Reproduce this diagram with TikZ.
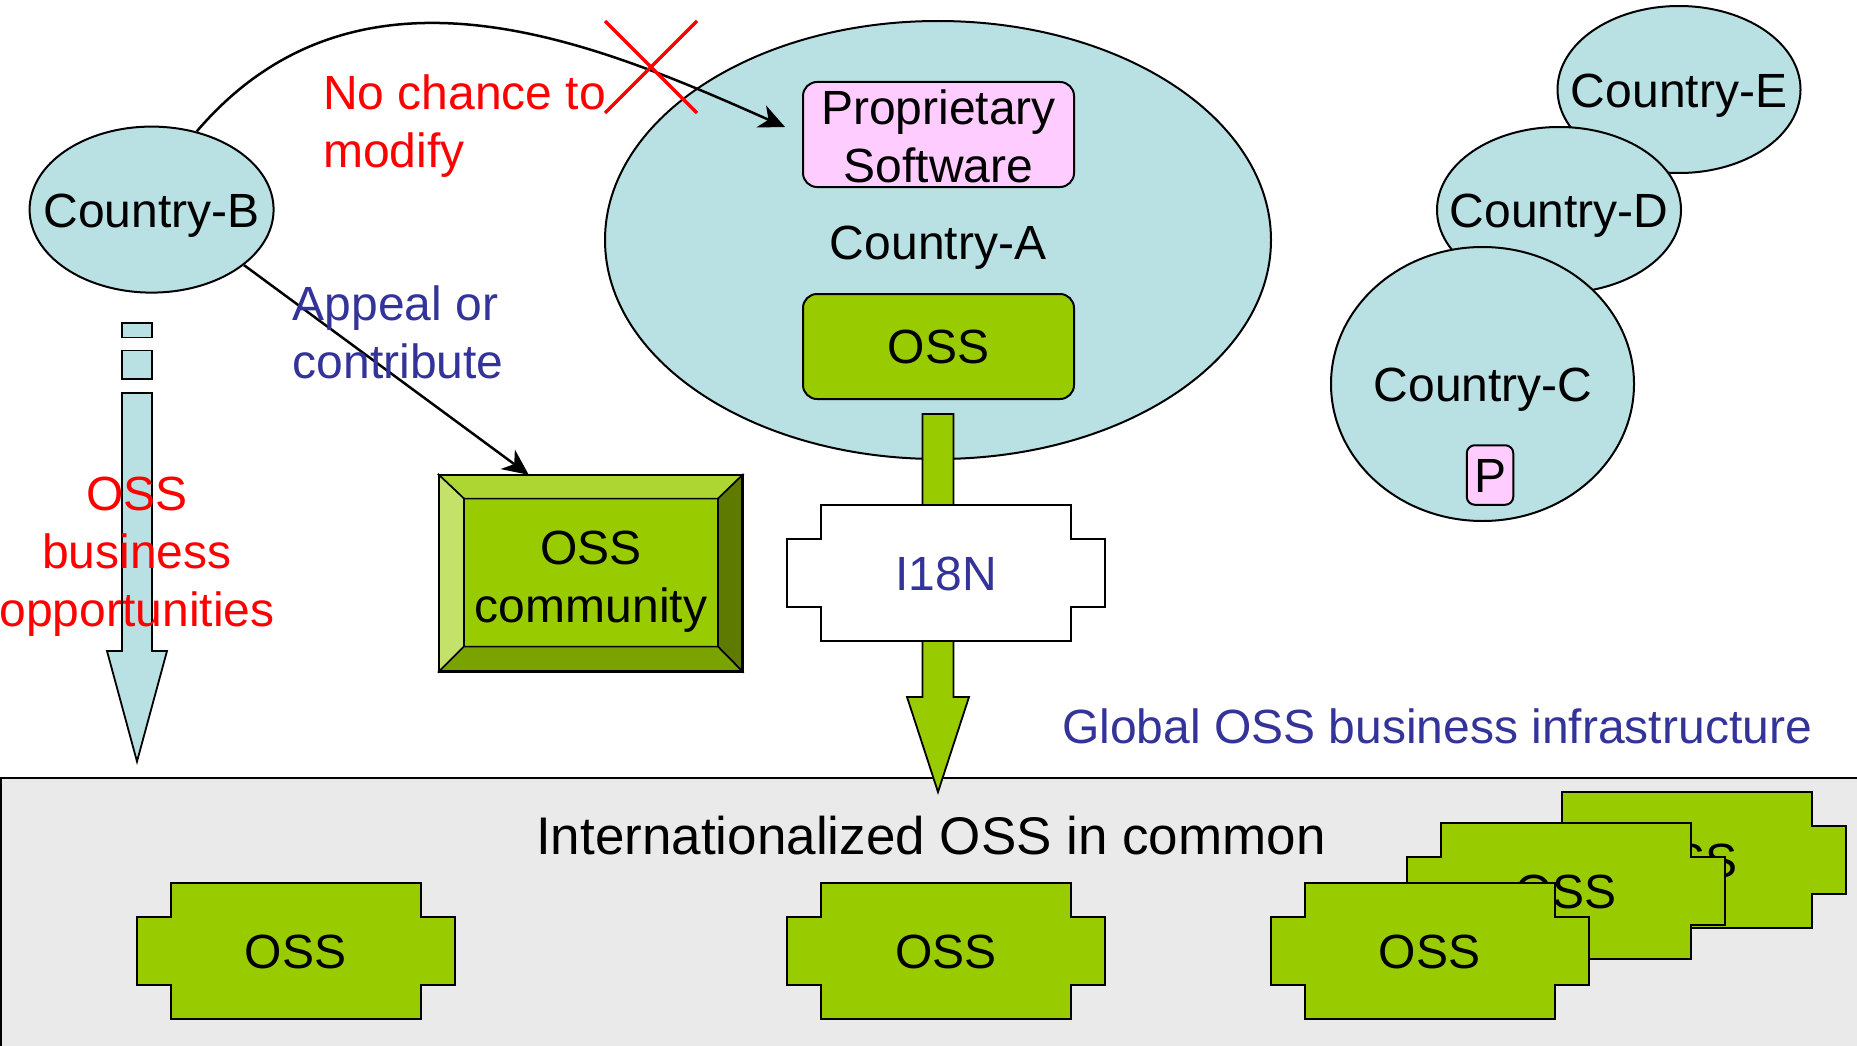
\documentclass[tikz,border=0pt]{standalone}
\usepackage{fontspec}
\setmainfont{Liberation Sans}
\usetikzlibrary{shapes.geometric,arrows.meta}
\definecolor{cty}{HTML}{B9E0E3}
\definecolor{oss}{HTML}{99CC00}
\definecolor{propink}{HTML}{FFCCFF}
\definecolor{txtblue}{HTML}{333399}
\definecolor{bandgray}{HTML}{EAEAEA}
\definecolor{bvtop}{HTML}{ADD633}
\definecolor{bvleft}{HTML}{C4E16A}
\definecolor{bvright}{HTML}{5E7B00}
\definecolor{bvbot}{HTML}{7AA300}
\begin{document}
\begin{tikzpicture}[x=1pt,y=-1pt,
  outl/.style={draw=black, line width=2},
  country/.style={ellipse, outl, fill=cty, inner sep=0},
  lbl/.style={inner sep=0, font=\fontsize{48}{58}\selectfont, align=center},
  biglbl/.style={inner sep=0, font=\fontsize{53}{63}\selectfont, align=center},
  rbox/.style={rectangle, rounded corners=14, outl, inner sep=0},
  conn/.style={line width=2.5, -{Stealth[length=26,width=24,inset=8]}},
  blockarrow/.style={draw=black, line width=1.8},
  bevel/.style={draw=black, line width=1.6},
  plate/.pic={\path[pic actions] (-125,-68) -- (125,-68) -- (125,-34) -- (159,-34) -- (159,34) -- (125,34) -- (125,68) -- (-125,68) -- (-125,34) -- (-159,34) -- (-159,-34) -- (-125,-34) -- cycle;}
]
\useasboundingbox (0,0) rectangle (1857,1046);
\fill[white] (0,0) rectangle (1857,1046);

% band
\fill[bandgray] (1,778) rectangle (1857,1046);
\draw[line width=2] (1857,778) -- (1,778) -- (1,1046);

% Country-A
\node[country, minimum width=666, minimum height=438] (A) at (938,240) {};
\node[rbox, fill=propink, minimum width=271, minimum height=105] (PS) at (938.5,134.5) {};
\node[lbl] (PSt) at (938.5,136) {Proprietary\\Software};
\node[lbl] (Al) at (938,248) {Country-A};
\node[rbox, fill=oss, minimum width=271, minimum height=105] (OA) at (938.5,346.5) {};
\node[lbl] (OAt) at (938.5,347) {OSS};

% Countries E, D, C
\node[country, minimum width=243, minimum height=167] (E) at (1679,89.5) {};
\node[lbl] (El) at (1679,96) {Country-E};
\node[country, minimum width=244, minimum height=166] (D) at (1559,210) {};
\node[lbl] (Dl) at (1559,216) {Country-D};
\node[country, minimum width=303, minimum height=274] (C) at (1482.5,384) {};
\node[lbl] (Cl) at (1483,390) {Country-C};
\node[rbox, rounded corners=8, fill=propink, minimum width=46.5, minimum height=59.5] (P) at (1490,475) {};
\node[lbl] (Pl) at (1490,476) {P};

% green block arrow
\filldraw[blockarrow, fill=oss] (922.5,414) -- (953.5,414) -- (953.5,697) -- (969,697) -- (938,792) -- (907,697) -- (922.5,697) -- cycle;
% I18N plate
\pic[fill=white, draw=black, line width=2] at (946,573) {plate};
\node[lbl, text=txtblue] (I18N) at (946,574) {I18N};

% Country-B
\node[country, minimum width=244, minimum height=166] (B) at (151.6,209.6) {};
\node[lbl] (Bl) at (151.6,216) {Country-B};

% curved arrow to proprietary software
\coordinate (tipPS) at ([xshift=-17,yshift=7.5]PS.west);
\draw[conn] (B.60) .. controls (360,-60) and (600,45) .. (tipPS);
\draw[red, line width=3.5] (605,21) -- (697,113);
\draw[red, line width=3.5] (605,113) -- (697,21);
\node[lbl, text=red, align=left, anchor=west] (nochance) at (323,126) {No chance to\\modify};

% OSS community bevel box
\node[inner sep=0, minimum width=303.5, minimum height=196.5] (Com) at (590.75,573.25) {};
\fill[oss] (464,498.6) rectangle (718,646.6);
\filldraw[bevel, fill=bvtop] (439,475) -- (742.5,475) -- (718,498.6) -- (464,498.6) -- cycle;
\filldraw[bevel, fill=bvleft] (439,475) -- (464,498.6) -- (464,646.6) -- (439,671.5) -- cycle;
\filldraw[bevel, fill=bvright] (742.5,475) -- (742.5,671.5) -- (718,646.6) -- (718,498.6) -- cycle;
\filldraw[bevel, fill=bvbot] (439,671.5) -- (742.5,671.5) -- (718,646.6) -- (464,646.6) -- cycle;
\draw[bevel] (464,498.6) rectangle (718,646.6);
\draw[line width=2.5] (Com.north west) rectangle (Com.south east);
\node[lbl] (Comt) at (591,581.5) {OSS\\community};

% appeal arrow
\coordinate (tipCom) at ([xshift=-62]Com.north);
\draw[conn] (B.-31) -- (tipCom);
\node[lbl, text=txtblue, align=left, anchor=west] (appeal) at (292.5,332.5) {Appeal or\\contribute};

% left blue block arrow
\filldraw[blockarrow, fill=cty] (122,323) rectangle (152,337.5);
\filldraw[blockarrow, fill=cty] (122,350.5) rectangle (152,379);
\filldraw[blockarrow, fill=cty] (122,393) -- (152,393) -- (152,651) -- (167,651) -- (137,761.5) -- (107,651) -- (122,651) -- cycle;
\node[lbl, text=red] (opp) at (137,557) {OSS\\business\\opportunities};

% band texts
\node[lbl, text=txtblue, anchor=east] (glob) at (1812,726) {Global OSS business infrastructure};
\node[biglbl] (intl) at (931,836) {Internationalized OSS in common};

% plates in the band
\pic[fill=oss, draw=black, line width=2] at (295.5,951) {plate};
\node[lbl] (o1) at (295.5,952) {OSS};
\pic[fill=oss, draw=black, line width=2] at (946,951) {plate};
\node[lbl] (o2) at (946,952) {OSS};
\pic[fill=oss, draw=black, line width=2] at (1687,860) {plate};
\node[lbl] (o5) at (1687,861) {OSS};
\pic[fill=oss, draw=black, line width=2] at (1566,890.5) {plate};
\node[lbl] (o4) at (1566,891.5) {OSS};
\pic[fill=oss, draw=black, line width=2] at (1429.6,951) {plate};
\node[lbl] (o3) at (1429.6,952) {OSS};
\end{tikzpicture}
\end{document}
